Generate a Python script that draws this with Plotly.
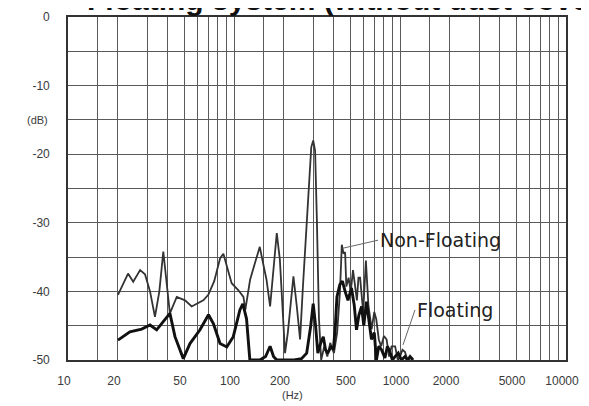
import plotly.graph_objects as go

# ---- data ----
nf_freq = [20, 23, 24.7, 27.2, 29.1, 31.2, 33.4, 35.5, 37.5, 39.3, 41.1, 45.2, 50.7, 55.6, 60,
           65.3, 70, 76, 82.4, 86.3, 91, 96.8, 106, 114, 117, 125, 134, 143, 150, 157, 165, 173,
           181, 189, 196, 203, 211, 220, 228, 239, 250, 260, 270, 282, 292, 300, 308, 316, 325,
           335, 350, 365, 380, 400, 418, 435, 446, 457, 467, 475, 490, 505, 521, 535, 550, 562,
           575, 600, 623, 645, 675, 700, 720, 745, 770, 800, 830, 860, 890, 935, 970, 1000, 1035,
           1070, 1110, 1150]
nf_db = [-40.5, -37.4, -38.6, -36.9, -37.5, -40.0, -43.7, -40.0, -34.2, -38.5, -43.2, -40.8, -41.3,
         -42.2, -41.8, -41.3, -40.5, -38.5, -35.2, -34.5, -36.5, -38.8, -39.8, -40.8, -42.7, -38.3,
         -35.8, -33.5, -36.0, -38.3, -42.2, -37.0, -31.5, -35.4, -43.0, -49.0, -46.0, -41.0, -37.8,
         -42.2, -47.0, -39.4, -33.0, -24.0, -19.0, -18.0, -19.5, -30.0, -44.0, -50.0, -48.0, -49.5,
         -47.5, -49.0, -46.0, -40.0, -33.2, -34.5, -34.3, -39.3, -38.0, -40.0, -36.9, -39.0, -41.3,
         -38.0, -38.0, -43.0, -35.5, -42.0, -45.5, -43.0, -44.1, -47.0, -48.0, -46.5, -47.0, -49.5,
         -48.0, -48.0, -50.0, -49.5, -48.5, -48.8, -50.0, -49.8]

fl_freq = [20, 23.6, 27.8, 31.2, 34.2, 37.5, 41.1, 44.1, 49.5, 54.3, 62.4, 70.2, 75.1, 82.4, 90.5,
           99, 108.5, 113, 119, 124.6, 135, 143, 155, 165, 173, 181, 200, 230, 255, 274, 290, 300,
           310, 320, 333, 345, 356, 367, 385, 397, 408, 417, 434, 450, 467, 486, 510, 530, 547, 565,
           587, 605, 628, 650, 673, 700, 721, 745, 774, 811, 840, 870, 900, 933, 976, 1020, 1070,
           1110, 1150, 1200]
fl_db = [-47.1, -45.9, -45.5, -44.9, -45.6, -44.4, -43.2, -46.6, -49.8, -47.6, -45.6, -43.4, -44.7,
         -47.6, -48.1, -46.6, -42.7, -41.8, -44.0, -50.0, -50.0, -50.0, -49.5, -48.0, -49.5, -50.0,
         -50.0, -50.0, -49.8, -49.0, -45.0, -41.8, -45.0, -49.0, -47.5, -46.6, -48.5, -49.0, -48.0,
         -48.5, -45.0, -40.8, -39.0, -38.5, -40.0, -41.3, -39.5, -42.0, -45.6, -43.5, -42.2, -45.0,
         -41.5, -44.0, -47.0, -46.0, -50.0, -48.0, -48.5, -49.7, -48.0, -48.8, -50.0, -49.5, -49.0,
         -50.0, -49.5, -50.0, -49.5, -50.0]

x_tickvals = [10, 20, 50, 100, 200, 500, 1000, 2000, 5000, 10000]
x_ticktext = ["10", "20", "50", "100", "200", "500", "1000", "2000", "5000", "10000"]
x_minor = [15, 30, 40, 60, 70, 80, 90, 150, 300, 400, 600, 700, 800, 900,
           1500, 3000, 4000, 6000, 7000, 8000, 9000]
y_tickvals = [0, -10, -20, -30, -40, -50]
y_ticktext = ["0", "-10", "-20", "-30", "-40", "-50"]
y_minor = [-5, -15, -25, -35, -45]

GRID = "#5a5a5a"
TICKFONT = dict(family="Liberation Sans", size=12, color="#3a3a3a")

fig = go.Figure()
fig.add_trace(go.Scatter(x=nf_freq, y=nf_db, mode="lines", name="Non-Floating",
                         line=dict(color="#333333", width=1.8)))
fig.add_trace(go.Scatter(x=fl_freq, y=fl_db, mode="lines", name="Floating",
                         line=dict(color="#111111", width=2.9)))

# the page body adds an 8px margin, so the figure is sized/offset to compensate
fig.update_layout(
    width=573, height=398,
    margin=dict(l=60, r=15, t=9, b=46, autoexpand=False),
    paper_bgcolor="white", plot_bgcolor="white",
    showlegend=False,
    xaxis=dict(type="log", range=[1, 4], tickmode="array", tickvals=x_tickvals,
               ticktext=x_ticktext, showgrid=True, gridcolor=GRID, gridwidth=1.3,
               minor=dict(tickmode="array", tickvals=x_minor, showgrid=True,
                          gridcolor=GRID, gridwidth=1.3, ticks=""),
               showline=True, mirror=True, linecolor="#333", linewidth=1.6,
               ticks="", tickfont=TICKFONT, ticklabelstandoff=9, ticklabelshift=-4,
               zeroline=False, automargin=False, ticklabeloverflow="allow"),
    yaxis=dict(range=[-50, 0], tickmode="array", tickvals=y_tickvals, ticktext=y_ticktext,
               showgrid=True, gridcolor=GRID, gridwidth=1.3,
               minor=dict(tickmode="array", tickvals=y_minor, showgrid=True,
                          gridcolor=GRID, gridwidth=1.3, ticks=""),
               showline=True, mirror=True, linecolor="#333", linewidth=1.6,
               ticks="", tickfont=TICKFONT, ticklabelstandoff=14, zeroline=False,
               automargin=False, ticklabeloverflow="allow"),
)

# series labels with leader lines
fig.add_annotation(x=2.657, y=-33.7, xref="x", yref="y", text="Non-Floating",
                   showarrow=True, arrowhead=0, arrowwidth=1, arrowcolor="#666",
                   ax=35, ay=-8, xanchor="left", yanchor="middle",
                   font=dict(family="DejaVu Sans", size=19, color="#222"))
fig.add_annotation(x=3.018, y=-47.8, xref="x", yref="y", text="Floating",
                   showarrow=True, arrowhead=0, arrowwidth=1, arrowcolor="#666",
                   ax=12, ay=-35, xanchor="left", yanchor="middle",
                   font=dict(family="DejaVu Sans", size=19, color="#222"))

# axis unit labels
fig.add_annotation(x=(37 - 68) / 498, y=(360 - 120) / 343, xref="paper", yref="paper",
                   text="(dB)", showarrow=False, xanchor="center", yanchor="middle",
                   font=dict(family="Liberation Sans", size=11, color="#3a3a3a"))
fig.add_annotation(x=(292 - 68) / 498, y=(360 - 395) / 343, xref="paper", yref="paper",
                   text="(Hz)", showarrow=False, xanchor="center", yanchor="middle",
                   font=dict(family="Liberation Sans", size=11, color="#3a3a3a"))

# title, clipped by the top edge of the page in the reference
fig.add_annotation(x=(85 - 68) / 498, y=(360 - 18) / 343, xref="paper", yref="paper",
                   text="<b>Floating system (without dust cover)</b>", showarrow=False,
                   xanchor="left", yanchor="bottom",
                   font=dict(family="Liberation Sans", size=30, color="#111"))

fig.write_html("out.html")
